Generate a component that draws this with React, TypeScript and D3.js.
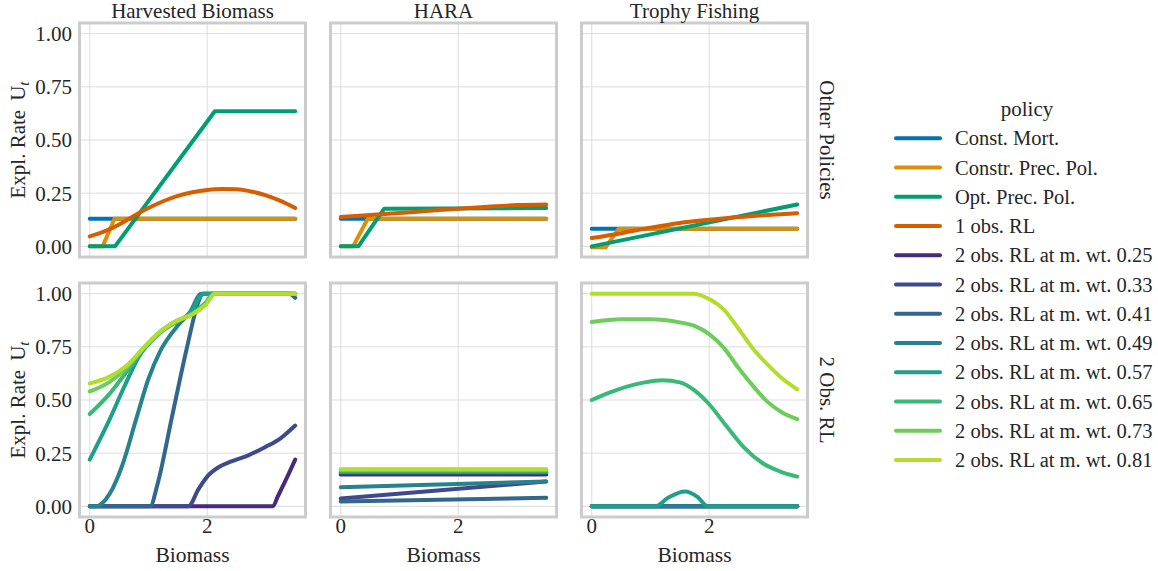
import React from 'react';
import * as d3 from 'd3';

type Pt = [number, number];

// ---------- labels ----------
const objectives = ['Harvested Biomass', 'HARA', 'Trophy Fishing'];
const rowLabels = ['Other Policies', '2 Obs. RL'];
const otherPolicyNames = ['Const. Mort.', 'Constr. Prec. Pol.', 'Opt. Prec. Pol.', '1 obs. RL'];
const meanWeights = ['0.25', '0.33', '0.41', '0.49', '0.57', '0.65', '0.73', '0.81'];
const rlNames = meanWeights.map((w) => `2 obs. RL at m. wt. ${w}`);
const yTicks = [0, 0.25, 0.5, 0.75, 1.0];
const xTicks = [0, 2];
const xDomain: [number, number] = [-0.175, 3.675];
const yDomain: [number, number] = [-0.05, 1.05];

// ---------- colours ----------
const otherColors = ['#0173b2', '#de8f05', '#029e73', '#d55e00'];
const rlColors = ['#472a7a', '#3e4a89', '#31678e', '#26828e', '#1f9e89', '#38b977', '#6ccd5a', '#b2dd2d'];

// ---------- data: Harvested Biomass, other policies ----------
const hbConstMort: Pt[] = [[0, 0.13], [3.5, 0.13]];
const hbConstrPrec: Pt[] = [[0, 0], [0.22, 0], [0.42, 0.13], [3.5, 0.13]];
const hbOptPrec: Pt[] = [[0, 0], [0.43, 0], [2.13, 0.635], [3.5, 0.635]];
const hbOneObs: Pt[] = [[0, 0.047], [0.25, 0.07], [0.5, 0.103], [0.75, 0.143], [1.0, 0.18], [1.25, 0.212], [1.5, 0.237], [1.75, 0.254], [2.0, 0.265], [2.25, 0.27], [2.5, 0.269], [2.75, 0.258], [3.0, 0.24], [3.25, 0.214], [3.5, 0.18]];

// ---------- data: HARA, other policies ----------
const haraConstMort: Pt[] = [[0, 0.13], [3.5, 0.13]];
const haraConstrPrec: Pt[] = [[0, 0], [0.21, 0], [0.46, 0.13], [3.5, 0.13]];
const haraOptPrec: Pt[] = [[0, 0], [0.3, 0], [0.74, 0.177], [3.5, 0.18]];
const haraOneObs: Pt[] = [[0, 0.138], [0.5, 0.147], [1.0, 0.157], [1.5, 0.167], [2.0, 0.177], [2.5, 0.186], [3.0, 0.194], [3.5, 0.197]];

// ---------- data: Trophy Fishing, other policies ----------
const tfConstMort: Pt[] = [[0, 0.083], [3.5, 0.083]];
const tfConstrPrec: Pt[] = [[0, -0.004], [0.24, -0.004], [0.46, 0.083], [3.5, 0.083]];
const tfOptPrec: Pt[] = [[0, 0], [3.5, 0.197]];
const tfOneObs: Pt[] = [[0, 0.039], [0.5, 0.062], [1.0, 0.088], [1.5, 0.11], [2.0, 0.125], [2.5, 0.138], [3.0, 0.148], [3.5, 0.156]];

// ---------- data: Harvested Biomass, 2 obs RL ----------
const hbRl025: Pt[] = [[0, 0], [3.12, 0], [3.2, 0.045], [3.35, 0.13], [3.5, 0.22]];
const hbRl033: Pt[] = [[0, 0], [1.68, 0], [1.85, 0.08], [2.0, 0.14], [2.2, 0.185], [2.4, 0.21], [2.7, 0.24], [3.0, 0.28], [3.25, 0.32], [3.5, 0.38]];
const hbRl041: Pt[] = [[0, 0], [1.03, 0], [1.15, 0.1], [1.4, 0.42], [1.65, 0.74], [1.85, 0.96], [1.92, 1.0], [3.4, 1.0], [3.5, 0.98]];
const hbRl049: Pt[] = [[0, 0], [0.1, 0], [0.34, 0.06], [0.55, 0.19], [0.79, 0.41], [1.0, 0.6], [1.2, 0.73], [1.5, 0.85], [1.7, 0.91], [1.9, 1.0], [3.5, 1.0]];
const hbRl057: Pt[] = [[0, 0.22], [0.34, 0.41], [0.6, 0.57], [0.85, 0.71], [1.13, 0.8], [1.4, 0.86], [1.7, 0.905], [1.95, 1.0], [3.5, 1.0]];
const hbRl065: Pt[] = [[0, 0.434], [0.34, 0.53], [0.62, 0.63], [0.9, 0.735], [1.19, 0.815], [1.47, 0.865], [1.76, 0.91], [1.98, 0.96], [2.1, 1.0], [3.5, 1.0]];
const hbRl073: Pt[] = [[0, 0.54], [0.34, 0.585], [0.62, 0.65], [0.9, 0.74], [1.19, 0.82], [1.47, 0.87], [1.76, 0.905], [1.98, 0.95], [2.13, 1.0], [3.5, 1.0]];
const hbRl081: Pt[] = [[0, 0.578], [0.34, 0.61], [0.62, 0.66], [0.9, 0.74], [1.19, 0.82], [1.47, 0.87], [1.76, 0.905], [1.98, 0.95], [2.13, 1.0], [3.5, 1.0]];

// ---------- data: HARA, 2 obs RL ----------
const haraRl025: Pt[] = [[0, 0.15], [3.5, 0.15]];
const haraRl033: Pt[] = [[0, 0.037], [3.5, 0.117]];
const haraRl041: Pt[] = [[0, 0.023], [3.5, 0.04]];
const haraRl049: Pt[] = [[0, 0.09], [3.5, 0.117]];
const haraRl057: Pt[] = [[0, 0.16], [3.5, 0.16]];
const haraRl065: Pt[] = [[0, 0.167], [3.5, 0.167]];
const haraRl073: Pt[] = [[0, 0.172], [3.5, 0.172]];
const haraRl081: Pt[] = [[0, 0.175], [3.5, 0.175]];

// ---------- data: Trophy Fishing, 2 obs RL ----------
const tfRl025: Pt[] = [[0, 0], [3.5, 0]];
const tfRl033: Pt[] = [[0, 0], [3.5, 0]];
const tfRl041: Pt[] = [[0, 0], [3.5, 0]];
const tfRl049: Pt[] = [[0, 0], [3.5, 0]];
const tfRl057: Pt[] = [[0, 0], [1.08, 0], [1.3, 0.04], [1.59, 0.07], [1.8, 0.045], [1.98, 0], [3.5, 0]];
const tfRl065: Pt[] = [[0, 0.5], [0.3, 0.535], [0.6, 0.563], [0.9, 0.583], [1.2, 0.593], [1.5, 0.583], [1.75, 0.545], [2.0, 0.48], [2.3, 0.375], [2.6, 0.275], [2.9, 0.205], [3.2, 0.165], [3.5, 0.14]];
const tfRl073: Pt[] = [[0, 0.867], [0.5, 0.88], [1.0, 0.88], [1.5, 0.865], [1.75, 0.848], [2.0, 0.81], [2.25, 0.745], [2.5, 0.65], [2.75, 0.565], [3.0, 0.49], [3.25, 0.44], [3.5, 0.41]];
const tfRl081: Pt[] = [[0, 1.0], [1.73, 1.0], [2.0, 0.975], [2.25, 0.925], [2.5, 0.835], [2.75, 0.74], [3.0, 0.665], [3.25, 0.6], [3.5, 0.55]];

const otherPanels: Pt[][][] = [
  [hbConstMort, hbConstrPrec, hbOptPrec, hbOneObs],
  [haraConstMort, haraConstrPrec, haraOptPrec, haraOneObs],
  [tfConstMort, tfConstrPrec, tfOptPrec, tfOneObs],
];
const rlPanels: Pt[][][] = [
  [hbRl025, hbRl033, hbRl041, hbRl049, hbRl057, hbRl065, hbRl073, hbRl081],
  [haraRl025, haraRl033, haraRl041, haraRl049, haraRl057, haraRl065, haraRl073, haraRl081],
  [tfRl025, tfRl033, tfRl041, tfRl049, tfRl057, tfRl065, tfRl073, tfRl081],
];

// ---------- layout ----------
const W = 1158;
const H = 571;
const axW = 226;
const axH = 234;
const colLeft = [79.5, 330.5, 581.5];
const rowTop = [23, 283];
const FONT = "'Liberation Serif', 'Times New Roman', serif";
const TEXT = '#262626';
const FS = 21;
const LW = 4;

const xScale = d3.scaleLinear().domain(xDomain).range([0, axW]);
const yScale = d3.scaleLinear().domain(yDomain).range([axH, 0]);

const lineSmooth = d3
  .line<Pt>()
  .x((d) => xScale(d[0]))
  .y((d) => yScale(d[1]))
  .curve(d3.curveMonotoneX);
const lineStraight = d3
  .line<Pt>()
  .x((d) => xScale(d[0]))
  .y((d) => yScale(d[1]))
  .curve(d3.curveLinear);

function Panel({ col, row }: { col: number; row: number }) {
  const series = row === 0 ? otherPanels[col] : rlPanels[col];
  const colors = row === 0 ? otherColors : rlColors;
  return (
    <g transform={`translate(${colLeft[col]},${rowTop[row]})`}>
      {yTicks.map((t) => (
        <line key={'gy' + t} x1={0} x2={axW} y1={yScale(t)} y2={yScale(t)} stroke="#dcdcdc" strokeWidth={1} />
      ))}
      {xTicks.map((t) => (
        <line key={'gx' + t} x1={xScale(t)} x2={xScale(t)} y1={0} y2={axH} stroke="#dcdcdc" strokeWidth={1} />
      ))}
      {series.map((pts, i) => {
        const gen = row === 0 && i < 3 ? lineStraight : lineSmooth;
        return (
          <path
            key={i}
            d={gen(pts) || ''}
            fill="none"
            stroke={colors[i]}
            strokeWidth={LW}
            strokeLinecap="round"
            strokeLinejoin="round"
          />
        );
      })}
      <rect x={0} y={0} width={axW} height={axH} fill="none" stroke="#cccccc" strokeWidth={3} />
      {col === 0 &&
        yTicks.map((t) => (
          <text key={'ty' + t} x={-7.5} y={yScale(t)} dy="0.35em" textAnchor="end" fontSize={FS} fill={TEXT}>
            {t.toFixed(2)}
          </text>
        ))}
      {row === 1 &&
        xTicks.map((t) => (
          <text key={'tx' + t} x={xScale(t)} y={axH + 15.5} textAnchor="middle" fontSize={FS} fill={TEXT}>
            {String(t)}
          </text>
        ))}
      {row === 1 && (
        <text x={axW / 2} y={axH + 45} textAnchor="middle" fontSize={FS + 0.5} fill={TEXT}>
          Biomass
        </text>
      )}
      {row === 0 && (
        <text x={axW / 2} y={-5} textAnchor="middle" fontSize={FS} fill={TEXT}>
          {objectives[col]}
        </text>
      )}
      {col === 0 && (
        <text transform={`translate(-55,${axH / 2}) rotate(-90)`} textAnchor="middle" fontSize={FS} fill={TEXT}>
          Expl. Rate
          <tspan dx={9}>U</tspan>
          <tspan fontStyle="italic" dy={4} fontSize={FS * 0.72}>
            t
          </tspan>
        </text>
      )}
      {col === 2 && (
        <text transform={`translate(${axW + 12},${axH / 2}) rotate(90)`} textAnchor="middle" fontSize={FS} fill={TEXT}>
          {rowLabels[row]}
        </text>
      )}
    </g>
  );
}

function Legend() {
  const names = [...otherPolicyNames, ...rlNames];
  const colors = [...otherColors, ...rlColors];
  const x0 = 896;
  const y0 = 138.3;
  const step = 29.25;
  return (
    <g>
      <text x={1027} y={116} textAnchor="middle" fontSize={FS} fill={TEXT}>
        policy
      </text>
      {names.map((n, i) => (
        <g key={n} transform={`translate(0,${y0 + i * step})`}>
          <line x1={x0} x2={x0 + 44} y1={0} y2={0} stroke={colors[i]} strokeWidth={LW} strokeLinecap="round" />
          <text x={955} y={0} dy="0.35em" fontSize={20.5} fill={TEXT}>
            {n}
          </text>
        </g>
      ))}
    </g>
  );
}

export default function App() {
  return (
    <svg
      width={W}
      height={H}
      viewBox={`0 0 ${W} ${H}`}
      style={{ position: 'absolute', left: 0, top: 0, background: '#ffffff', fontFamily: FONT }}
    >
      <rect x={0} y={0} width={W} height={H} fill="#ffffff" />
      {[0, 1].map((row) => [0, 1, 2].map((col) => <Panel key={`${row}-${col}`} row={row} col={col} />))}
      <Legend />
    </svg>
  );
}
